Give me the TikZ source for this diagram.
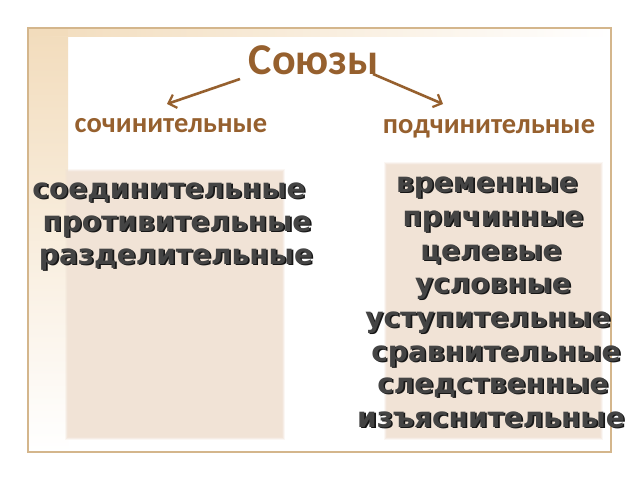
\documentclass[tikz,border=0pt]{standalone}
\usepackage{fontspec}
\usetikzlibrary{arrows.meta}
\newfontfamily\calib{Carlito}
\newfontfamily\dvs{DejaVu Sans}
\definecolor{framec}{RGB}{212,182,140}
\definecolor{stripc}{RGB}{242,220,188}
\definecolor{boxc}{RGB}{241,227,214}
\definecolor{brownc}{RGB}{150,96,46}
\definecolor{textc}{RGB}{68,68,68}
\definecolor{shadc}{RGB}{22,22,22}
\tikzset{
  titletext/.style={font=\calib\bfseries\fontsize{44}{44}\selectfont, text=brownc, anchor=base, inner sep=0pt},
  labeltext/.style={font=\calib\bfseries\fontsize{28.5}{28.5}\selectfont, text=brownc, anchor=base, inner sep=0pt},
  listtext/.style={font=\dvs\bfseries\fontsize{28}{28}\selectfont, text=textc, anchor=base, inner sep=0pt},
  listshadow/.style={font=\dvs\bfseries\fontsize{28}{28}\selectfont, text=shadc, anchor=base, inner sep=0pt},
  brownarrow/.style={draw=brownc, line width=2.6pt, -{Straight Barb[length=7pt,width=14pt,line width=2.2pt]}},
}
\begin{document}
\begin{tikzpicture}[x=1pt,y=-1pt]
\useasboundingbox (0,0) rectangle (640,480);
\fill[white] (0,0) rectangle (640,480);
% frame
\shade[top color=stripc, bottom color=white] (28,28) rectangle (68,452);
\shade[left color=stripc, right color=white] (28,28) rectangle (611,36);
\fill[stripc] (28,28) rectangle (68,36);
\draw[framec, line width=1.2pt] (28,28) rectangle (611,452);
% beige panels with soft edges
\foreach \d/\o in {3/0.25,2/0.45,1/0.7,0/1}{
  \fill[boxc, opacity=\o] (68-\d,172-\d) rectangle (282+\d,437+\d);
  \fill[boxc, opacity=\o] (387-\d,165-\d) rectangle (600+\d,437+\d);
}
% title and labels
\node[titletext] (title) at (314,74) {Союзы};
\node[labeltext] (coord) at (171,132) {сочинительные};
\node[labeltext] (subord) at (489,133) {подчинительные};
\coordinate (la1) at (240,79);
\coordinate (la2) at (167,104);
\coordinate (ra1) at (373,74);
\coordinate (ra2) at (443,104);
\draw[brownarrow] (la1) -- (la2);
\draw[brownarrow] (ra1) -- (ra2);
% left list
\foreach \n/\x/\y/\t in {l1/169/198/соединительные, l2/177/231/противительные, l3/176/264/разделительные}{
  \node[listshadow] at (\x+1.6,\y+1.6) {\t};
  \node[listtext] (\n) at (\x,\y) {\t};
}
% right list
\foreach \n/\x/\y/\t in {r1/487/192/временные, r2/493/226/причинные, r3/491/260/целевые, r4/493/293/условные, r5/488/327/уступительные, r6/496/361/сравнительные, r7/493/393/следственные, r8/491/427/изъяснительные}{
  \node[listshadow] at (\x+1.6,\y+1.6) {\t};
  \node[listtext] (\n) at (\x,\y) {\t};
}
\end{tikzpicture}
\end{document}
